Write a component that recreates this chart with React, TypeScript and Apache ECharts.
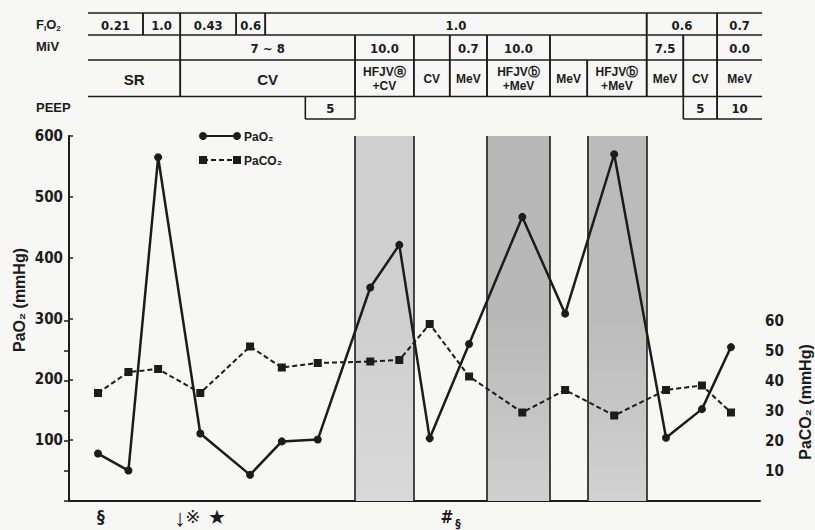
import React, { useEffect, useRef } from 'react';
import * as echarts from 'echarts';

// ---- data (x positions are on a 0–100 time scale across the plot) ----
const sampleX = [4.2, 8.6, 12.9, 19.0, 26.2, 30.8, 36.0, 43.6, 47.8, 52.2, 57.9, 65.6, 71.8, 78.9, 86.4, 91.6, 95.8];
const pao2 = [78, 50, 565, 111, 43, 98, 101, 351, 421, 103, 258, 467, 308, 570, 104, 151, 253];
const paco2 = [36, 43, 44, 36, 51.5, 44.5, 46, 46.5, 47, 59, 41.5, 29.5, 37, 28.5, 37, 38.5, 29.5];
const hfjvPeriods: [number, number][] = [[41.4, 49.9], [60.5, 69.6], [75.0, 83.6]];

const TABLE_START = 2.75;
const TABLE_END = 100.3;

type Cell = { t: string; a: number; b: number };
const fio2Cells: Cell[] = [
  { t: '0.21', a: 2.75, b: 10.7 },
  { t: '1.0', a: 10.7, b: 16.1 },
  { t: '0.43', a: 16.1, b: 24.2 },
  { t: '0.6', a: 24.2, b: 28.4 },
  { t: '1.0', a: 28.4, b: 83.6 },
  { t: '0.6', a: 83.6, b: 93.8 },
  { t: '0.7', a: 93.8, b: 100.3 },
];
const mivCells: Cell[] = [
  { t: '', a: 2.75, b: 16.1 },
  { t: '7 ~ 8', a: 16.1, b: 41.4 },
  { t: '10.0', a: 41.4, b: 49.9 },
  { t: '', a: 49.9, b: 55.1 },
  { t: '0.7', a: 55.1, b: 60.5 },
  { t: '10.0', a: 60.5, b: 69.6 },
  { t: '', a: 69.6, b: 83.6 },
  { t: '7.5', a: 83.6, b: 88.9 },
  { t: '', a: 88.9, b: 93.8 },
  { t: '0.0', a: 93.8, b: 100.3 },
];
const modeCells: Cell[] = [
  { t: 'SR', a: 2.75, b: 16.1 },
  { t: 'CV', a: 16.1, b: 41.4 },
  { t: 'HFJVⓐ\n+CV', a: 41.4, b: 49.9 },
  { t: 'CV', a: 49.9, b: 55.1 },
  { t: 'MeV', a: 55.1, b: 60.5 },
  { t: 'HFJVⓑ\n+MeV', a: 60.5, b: 69.6 },
  { t: 'MeV', a: 69.6, b: 75.0 },
  { t: 'HFJVⓑ\n+MeV', a: 75.0, b: 83.6 },
  { t: 'MeV', a: 83.6, b: 88.9 },
  { t: 'CV', a: 88.9, b: 93.8 },
  { t: 'MeV', a: 93.8, b: 100.3 },
];
const peepCells: Cell[] = [
  { t: '5', a: 34.2, b: 41.4 },
  { t: '5', a: 88.9, b: 93.8 },
  { t: '10', a: 93.8, b: 100.3 },
];
const rowLabels = ['FIO2', 'MiV', 'PEEP'];
const annotations = [
  { t: '§', x: 4.6 },
  { t: '↓', x: 16.1 },
  { t: '※', x: 17.9 },
  { t: '★', x: 21.4 },
  { t: '#', x: 54.7 },
];
const annotationSmall = { t: '§', x: 56.3 };

// ---- styles ----
const INK = '#1c1c1c';
const BG = '#f7f7f6';
const NARROW = "'Liberation Sans Narrow', 'DejaVu Sans Condensed', 'Arial Narrow', sans-serif";
const SANS = "'Liberation Sans', Arial, 'DejaVu Sans', sans-serif";
const bandFills = [
  ['#cfcfcf', '#d9d9d9'],
  ['#b8b8b8', '#d0d0d0'],
  ['#bbbbbb', '#d2d2d2'],
];

function buildOption(): any {
  const yLabel = {
    color: INK,
    fontFamily: NARROW,
    fontWeight: 'bold',
    fontSize: 15,
    formatter: (v: number) => (v === 0 ? '' : String(v)),
  };
  return {
    animation: false,
    backgroundColor: BG,
    grid: [
      { left: 69, right: 55, top: 136, bottom: 29 },
      { left: 69, right: 55, top: 321, bottom: 29 },
    ],
    xAxis: [
      {
        type: 'value', gridIndex: 0, min: 0, max: 100,
        axisLine: { show: true, onZero: false, lineStyle: { color: INK, width: 2 } },
        axisTick: { show: false }, axisLabel: { show: false }, splitLine: { show: false },
      },
      {
        type: 'value', gridIndex: 1, min: 0, max: 100, show: false,
        axisLine: { show: false }, splitLine: { show: false },
      },
    ],
    yAxis: [
      {
        type: 'value', gridIndex: 0, min: 0, max: 600, interval: 100,
        axisLine: { show: true, lineStyle: { color: INK, width: 2 } },
        axisTick: { show: true, inside: true, length: 4, lineStyle: { color: INK, width: 1.5 } },
        axisLabel: { ...yLabel, margin: 6 },
        splitLine: { show: false },
      },
      {
        type: 'value', gridIndex: 1, position: 'right', min: 0, max: 60, interval: 10,
        axisLine: { show: true, lineStyle: { color: INK, width: 2 } },
        axisTick: { show: true, inside: true, length: 5, lineStyle: { color: INK, width: 1.5 } },
        axisLabel: { ...yLabel, margin: 5 },
        splitLine: { show: false },
      },
    ],
    series: [
      {
        type: 'line', name: 'PaO₂', xAxisIndex: 0, yAxisIndex: 0, z: 3,
        data: sampleX.map((x, i) => [x, pao2[i]]),
        symbol: 'circle', symbolSize: 8,
        lineStyle: { color: INK, width: 2.5 },
        itemStyle: { color: INK },
        markArea: {
          silent: true,
          data: hfjvPeriods.map(([a, b], i) => [
            {
              xAxis: a,
              itemStyle: {
                color: new echarts.graphic.LinearGradient(0, 0, 0, 1, [
                  { offset: 0, color: bandFills[i][0] },
                  { offset: 0.5, color: bandFills[i][0] },
                  { offset: 1, color: bandFills[i][1] },
                ]),
              },
            },
            { xAxis: b },
          ]),
        },
        markLine: {
          silent: true,
          symbol: ['none', 'none'],
          label: { show: false },
          lineStyle: { color: INK, type: 'solid', width: 1.6 },
          data: hfjvPeriods.flat().map((x) => ({ xAxis: x })),
        },
      },
      {
        type: 'line', name: 'PaCO₂', xAxisIndex: 1, yAxisIndex: 1, z: 4,
        data: sampleX.map((x, i) => [x, paco2[i]]),
        symbol: 'rect', symbolSize: 8,
        lineStyle: { color: INK, width: 2, type: [5, 3] },
        itemStyle: { color: INK },
      },
    ],
  };
}

function buildGraphics(px: (v: number) => number): any[] {
  const els: any[] = [];
  const line = (x1: number, y1: number, x2: number, y2: number, w = 1.5, dash?: number[]) =>
    els.push({
      type: 'line', silent: true, z: 10,
      shape: { x1, y1, x2, y2 },
      style: { stroke: INK, lineWidth: w, lineDash: dash },
    });
  const text = (x: number, y: number, t: string, font: string, align = 'center', extra: any = {}) =>
    els.push({
      type: 'text', silent: true, z: 10, x, y, ...extra,
      style: { text: t, font, fill: INK, align, verticalAlign: 'middle', textAlign: align, textVerticalAlign: 'middle', ...(extra.style || {}) },
    });

  const x0 = px(TABLE_START);
  const x1 = px(TABLE_END);
  const rowY = [13, 35, 60, 96.5];
  rowY.forEach((y) => line(x0, y, x1, y, 1.6));
  const peepBottom = 119;

  const rows: { cells: Cell[]; y0: number; y1: number; font: (c: Cell) => string }[] = [
    { cells: fio2Cells, y0: 13, y1: 35, font: () => `bold 13px ${NARROW}` },
    { cells: mivCells, y0: 35, y1: 60, font: () => `bold 13px ${NARROW}` },
    {
      cells: modeCells, y0: 60, y1: 96.5,
      font: (c) => (px(c.b) - px(c.a) > 80 ? `bold 15px ${SANS}` : `bold 12px ${SANS}`),
    },
    { cells: peepCells, y0: 96.5, y1: peepBottom, font: () => `bold 13px ${NARROW}` },
  ];
  rows.forEach((r) => {
    r.cells.forEach((c) => {
      const a = px(c.a);
      const b = px(c.b);
      if (c.a > TABLE_START + 0.01) line(a, r.y0, a, r.y1, 1.6);
      if (c.b < TABLE_END - 0.01) line(b, r.y0, b, r.y1, 1.6);
      if (c.t) {
        text((a + b) / 2, (r.y0 + r.y1) / 2 + 1, c.t, r.font(c), 'center', {
          style: { lineHeight: 14 },
        });
      }
    });
  });
  peepCells.forEach((c) => line(px(c.a), peepBottom, px(c.b), peepBottom, 1.6));

  // row labels
  els.push({
    type: 'text', silent: true, z: 10, x: 36, y: 24,
    style: {
      text: '{n|F}{s|I}{n|O}{s|2}', fill: INK, align: 'left', verticalAlign: 'middle',
      rich: {
        n: { font: `bold 13px ${SANS}`, fill: INK, verticalAlign: 'middle', lineHeight: 16 },
        s: { font: `bold 8px ${SANS}`, fill: INK, verticalAlign: 'bottom', lineHeight: 16 },
      },
    },
  });
  text(36, 46, rowLabels[1], `bold 13px ${SANS}`, 'left');
  text(36, 107, rowLabels[2], `bold 13px ${SANS}`, 'left');

  // legend
  line(203, 136, 237, 136, 2);
  els.push({ type: 'circle', silent: true, z: 10, shape: { cx: 203, cy: 136, r: 4 }, style: { fill: INK } });
  els.push({ type: 'circle', silent: true, z: 10, shape: { cx: 237, cy: 136, r: 4 }, style: { fill: INK } });
  text(244, 137, 'PaO₂', `bold 12px ${SANS}`, 'left');
  line(203, 160, 237, 160, 2, [5, 3]);
  els.push({ type: 'rect', silent: true, z: 10, shape: { x: 199, y: 156, width: 8, height: 8 }, style: { fill: INK } });
  els.push({ type: 'rect', silent: true, z: 10, shape: { x: 233, y: 156, width: 8, height: 8 }, style: { fill: INK } });
  text(244, 161, 'PaCO₂', `bold 12px ${SANS}`, 'left');

  // axis titles
  text(19, 300, 'PaO₂ (mmHg)', `bold 16px ${SANS}`, 'center', { rotation: Math.PI / 2 });
  text(805, 402, 'PaCO₂ (mmHg)', `bold 16px ${SANS}`, 'center', { rotation: Math.PI / 2 });

  // bottom annotations
  annotations.forEach((an) => {
    let font = `18px ${SANS}`;
    if (an.t === '§' || an.t === '#') font = `bold 17px ${NARROW}`;
    if (an.t === '↓') font = `bold 24px ${SANS}`;
    if (an.t === '★') font = `20px ${SANS}`;
    text(px(an.x), 517, an.t, font, 'center');
  });
  text(px(annotationSmall.x), 524, annotationSmall.t, `bold 12px ${NARROW}`, 'center');

  return els;
}

export default function App() {
  const ref = useRef<HTMLDivElement>(null);
  useEffect(() => {
    const chart = echarts.init(ref.current!, null, { renderer: 'svg' });
    chart.setOption(buildOption());
    const px = (v: number) => chart.convertToPixel({ xAxisIndex: 0 } as any, v) as unknown as number;
    chart.setOption({ graphic: { elements: buildGraphics(px) } });
    return () => chart.dispose();
  }, []);
  return (
    <div
      ref={ref}
      style={{ position: 'fixed', left: 0, top: 0, width: 815, height: 530, background: BG }}
    />
  );
}
